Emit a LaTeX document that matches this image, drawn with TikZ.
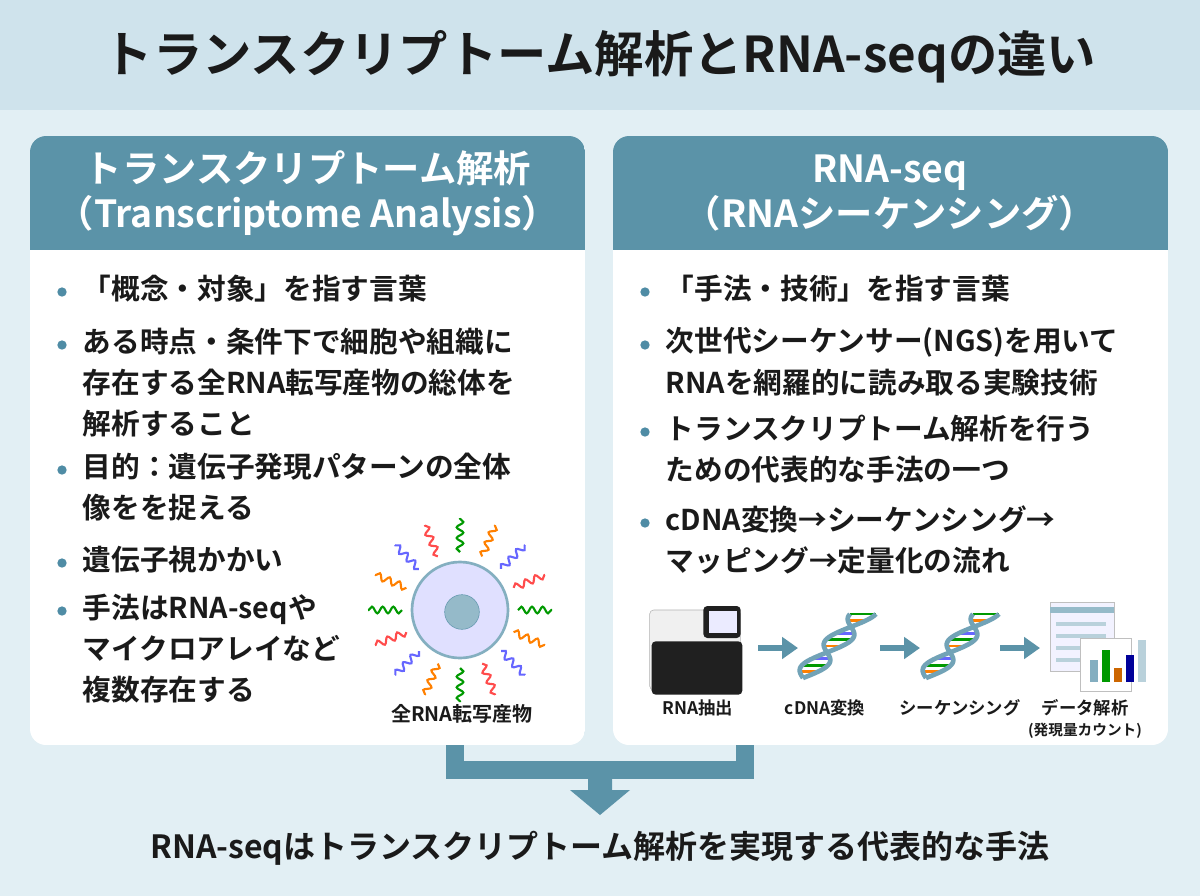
\documentclass[tikz,border=0pt]{standalone}
\usepackage{fontspec}
\setmainfont{Noto Sans CJK JP}[BoldFont={* Bold}]
\usetikzlibrary{decorations.pathmorphing,arrows.meta,calc}
\definecolor{bg}{HTML}{E2EFF4}
\definecolor{band}{HTML}{CFE3EC}
\definecolor{teal}{HTML}{5B93A8}
\definecolor{dot}{HTML}{4F8CA5}
\definecolor{ink}{HTML}{1A1A1A}
\begin{document}
\begin{tikzpicture}[x=0.75pt,y=-0.75pt,
 head/.style={text=white,font=\fontsize{28}{34}\selectfont\bfseries,align=center},
 bl/.style={anchor=west,font=\fontsize{21.5}{31}\selectfont\bfseries,text=ink,align=left},
 bdot/.style={fill=dot,circle,inner sep=0pt,minimum size=7pt},
 flow/.style={line width=13pt,draw=teal},
 small/.style={font=\fontsize{13}{15}\selectfont\bfseries,text=ink},
 helixl/.style={line width=3.5pt,draw=dot!80}]
\useasboundingbox (0,0) rectangle (1200,896);
\fill[bg] (0,0) rectangle (1200,896);
\fill[band] (0,0) rectangle (1200,110);
\node[font=\fontsize{37}{44}\selectfont\bfseries,text=ink] (title) at (600,57) {トランスクリプトーム解析とRNA-seqの違い};
% connectors
\coordinate (lb) at (455,740); \coordinate (rb) at (745,740);
\coordinate (lc) at (455,770); \coordinate (rc) at (745,770);
\coordinate (tip) at (600,815);
\draw[flow] (lb) -- (lc) -- (rc) -- (rb);
\fill[teal] (588,770) -- (612,770) -- (612,790) -- (630,790) -- (tip) -- (570,790) -- (588,790) -- cycle;
% cards
\begin{scope}
\clip[rounded corners=12pt] (30,136) rectangle (585,745);
\fill[white] (30,136) rectangle (585,745);
\fill[teal] (30,136) rectangle (585,250);
\end{scope}
\begin{scope}
\clip[rounded corners=12pt] (613,136) rectangle (1168,745);
\fill[white] (613,136) rectangle (1168,745);
\fill[teal] (613,136) rectangle (1168,250);
\end{scope}
\node[head] (lh) at (308,193) {トランスクリプトーム解析\\（Transcriptome Analysis）};
\node[head] (rh) at (890,193) {RNA-seq\\（RNAシーケンシング）};
% left bullets
\foreach \y/\t in {292/「概念・対象」を指す言葉,
 345/ある時点・条件下で細胞や組織に\\存在する全RNA転写産物の総体を\\解析すること,
 470/目的：遺伝子発現パターンの全体\\像をを捉える,
 563/遺伝子視かかい,
 611/手法はRNA-seqや\\マイクロアレイなど\\複数存在する}{
 \node[bdot] at (62,\y) {};
 \node[bl,anchor=north west] at (78,\y-22) {\t};
}
\foreach \y/\t in {292/「手法・技術」を指す言葉,
 345/次世代シーケンサー(NGS)を用いて\\RNAを網羅的に読み取る実験技術,
 432/トランスクリプトーム解析を行う\\ための代表的な手法の一つ,
 523/cDNA変換→シーケンシング→\\マッピング→定量化の流れ}{
 \node[bdot] at (645,\y) {};
 \node[bl,anchor=north west] at (661,\y-22) {\t};
}
% cell
\foreach \a [count=\i] in {0,22.5,...,337.5}{
 \pgfmathtruncatemacro{\c}{mod(\i,4)}
 \ifcase\c\def\col{red!70}\or\def\col{green!60!black}\or\def\col{orange}\or\def\col{blue!60}\fi
 \draw[\col,line width=1.6pt,decorate,decoration={snake,amplitude=2.5pt,segment length=8pt}]
   ($(460,610)+(\a:58)$) -- ($(460,610)+(\a:92)$);
}
\node[circle,fill=blue!12,draw=dot!70,line width=2pt,minimum size=72pt] (cell) at (460,610) {};
\node[circle,fill=dot!60,draw=dot!90,minimum size=26pt] (nuc) at (462,612) {};
\node[font=\fontsize{15}{18}\selectfont\bfseries,text=ink] (cl) at (462,714) {全RNA転写産物};
% workflow
\node[fill=gray!12,draw=gray!60,rounded corners=3pt,minimum width=68pt,minimum height=60pt] (mach0) at (695,650) {};
\node[fill=gray!25!black,rounded corners=3pt,minimum width=68pt,minimum height=40pt] (mach) at (697,668) {};
\node[fill=gray!25!black,rounded corners=3pt,minimum width=28pt,minimum height=24pt] (mtop) at (722,622) {};
\node[fill=blue!8,minimum width=21pt,minimum height=17pt] (scr) at (723,622) {};
\foreach \cx in {833,956}{
 \foreach \k in {0,...,10}{
  \pgfmathsetmacro{\t}{\k/10}
  \pgfmathsetmacro{\xa}{\cx-30+60*\t+13*sin(\t*450)}
  \pgfmathsetmacro{\xb}{\cx-30+60*\t-13*sin(\t*450)}
  \pgfmathsetmacro{\ya}{678-64*\t}
  \pgfmathtruncatemacro{\cc}{mod(\k,4)}
  \ifcase\cc\def\col{red!70}\or\def\col{orange}\or\def\col{green!60!black}\or\def\col{blue!60}\fi
  \draw[\col,line width=2.2pt] (\xa,\ya) -- (\xb,\ya);
 }
 \draw[helixl,domain=0:1,samples=40] plot ({\cx-30+60*\x+13*sin(\x*450)},{678-64*\x});
 \draw[helixl,domain=0:1,samples=40] plot ({\cx-30+60*\x-13*sin(\x*450)},{678-64*\x});
}
\node[fill=blue!5,draw=gray!50,minimum width=48pt,minimum height=52pt] (tab) at (1082,637) {};
\fill[dot!60] (1050,607) rectangle (1114,613);
\foreach \yy in {622,634,646,658}{\fill[dot!40] (1056,\yy) rectangle (1106,\yy+4);}
\node[fill=white,draw=gray!50,minimum width=38pt,minimum height=40pt] (chart) at (1106,665) {};
\fill[dot!70] (1090,660) rectangle (1098,682);
\fill[green!60!black] (1102,650) rectangle (1110,682);
\fill[orange!80!black] (1114,668) rectangle (1122,682);
\fill[blue!60!black] (1126,655) rectangle (1134,682);
\fill[dot!40] (1138,640) rectangle (1146,682);
\coordinate (a1s) at (758,648); \coordinate (a1e) at (798,648);
\coordinate (a2s) at (880,648); \coordinate (a2e) at (920,648);
\coordinate (a3s) at (1000,648); \coordinate (a3e) at (1040,648);
\foreach \s/\e in {a1s/a1e,a2s/a2e,a3s/a3e}
 \draw[teal,line width=5pt,-{Triangle[length=12pt,width=16pt]}] (\s) -- (\e);
\node[small] (l1) at (698,708) {RNA抽出};
\node[small] (l2) at (825,708) {cDNA変換};
\node[small] (l3) at (960,708) {シーケンシング};
\node[small] (l4) at (1085,708) {データ解析};
\node[font=\fontsize{11}{13}\selectfont\bfseries,text=ink] (l5) at (1085,731) {(発現量カウント)};
\node[font=\fontsize{24}{28}\selectfont\bfseries,text=ink] (bot) at (600,848) {RNA-seqはトランスクリプトーム解析を実現する代表的な手法};
\end{tikzpicture}
\end{document}
